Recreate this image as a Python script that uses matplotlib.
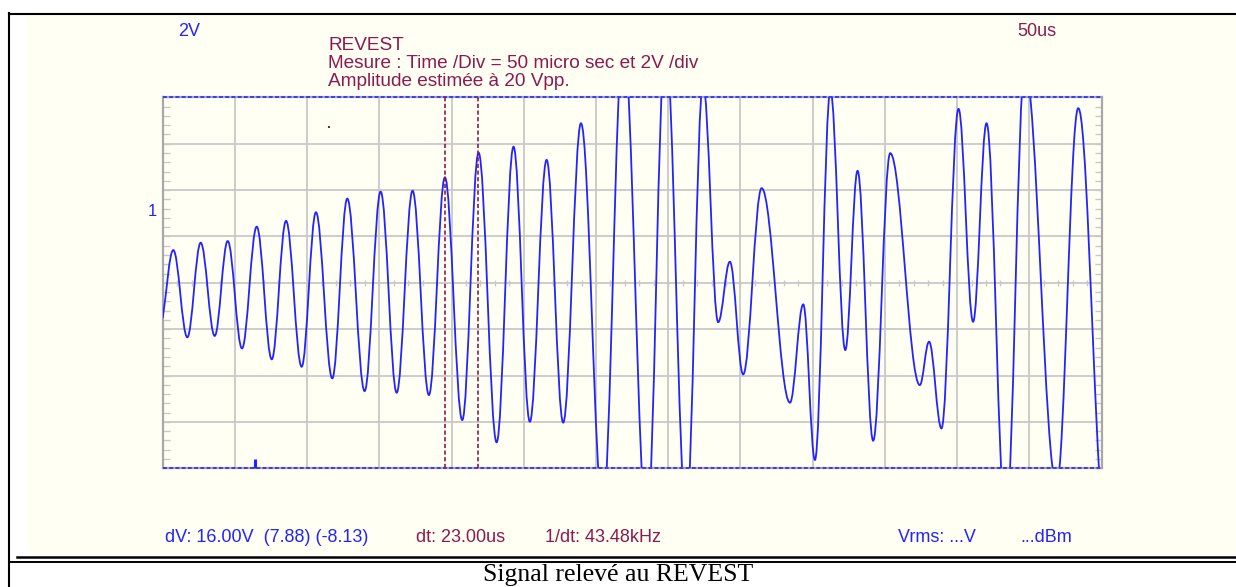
import numpy as np
import matplotlib
matplotlib.use("Agg")
import matplotlib.pyplot as plt
from matplotlib.path import Path
from matplotlib.patches import PathPatch, Rectangle

# turning points of the trace (time in us, level in V)
t_us = [0, 7.34, 17.03, 26.31, 36.0, 45.0, 54.9, 65.1, 75.5, 85.4, 96.2, 106.1,
        117.4, 127.8, 139.8, 150.9, 162.0, 173.0, 184.3, 195.4, 207.4, 218.7,
        231.2, 242.9, 254.2, 265.8, 277.3, 289.6, 304.7, 318.9, 335.3, 348.1,
        362.5, 374.1, 384.6, 392.7, 401.9, 414.7, 434.3, 443.5, 451.6, 462.3,
        472.6, 481.1, 491.9, 503.7, 524.2, 530.6, 539.2, 551.0, 561.1, 570.4,
        583.7, 596.9, 618.9, 633.9, 648.4]
volts = [-1.52, 1.41, -2.35, 1.73, -2.29, 1.80, -2.83, 2.42, -3.30, 2.67, -3.62,
         3.04, -4.12, 3.63, -4.67, 3.93, -4.74, 3.97, -4.84, 4.55, -5.92, 5.61,
         -6.88, 5.87, -5.99, 5.30, -6.03, 6.88, -9.7, 10.5, -10.5, 10.5, -10.0,
         8.6, -1.70, 0.91, -3.95, 4.08, -5.17, -0.93, -7.64, 8.3, -2.90, 4.83,
         -6.81, 5.59, -4.41, -2.54, -6.28, 7.50, -1.68, 6.88, -10.5, 9.3, -8.7,
         7.53, -8.2]

cursor_t = [195.5, 218.5]     # time cursors (dt = 23 us)
trigger_t = 64.2
marker_pt = (115.1, 6.72)

title_lines = ["REVEST",
               "Mesure : Time /Div = 50 micro sec et 2V /div",
               "Amplitude estimée à 20 Vpp."]
volt_div = "2V"
time_div = "50us"
dv_text = "dV: 16.00V  (7.88) (-8.13)"
dt_text = "dt: 23.00us"
freq_text = "1/dt: 43.48kHz"
vrms_text = "Vrms: ...V"
dbm_text = "...dBm"
caption = "Signal relevé au REVEST"

BLUE = "#2323ff"
WINE = "#8c1a4d"
CREAM = "#fffff4"
GRID = "#c8c8c8"

fig = plt.figure(figsize=(12.36, 5.87), dpi=100)
fig.patch.set_facecolor("white")

# page layer in pixel coordinates
bg = fig.add_axes([0, 0, 1, 1], zorder=0)
bg.set_xlim(0, 1236)
bg.set_ylim(587, 0)
bg.axis("off")
bg.add_patch(Rectangle((26, 15), 1236 - 26, 540, facecolor=CREAM, edgecolor="none"))
bg.plot([9, 1236], [14, 14], color="black", lw=1.5)
bg.plot([9, 9], [13, 587], color="black", lw=1.5)
bg.plot([17, 1236], [557, 557], color="black", lw=1.8)
bg.plot([9, 1236], [561.5, 561.5], color="black", lw=1.4)

fnt = "Liberation Sans"
bg.text(178, 31, volt_div, color=BLUE, fontsize=13, family=fnt, va="center")
bg.text(1017, 31, time_div, color=WINE, fontsize=13, family=fnt, va="center")
for i, line in enumerate(title_lines):
    bg.text(328, 45.5 + 18 * i, line, color=WINE, fontsize=13.7, family=fnt, va="center")
bg.text(148, 211, "1", color=BLUE, fontsize=12, family=fnt, va="center")
bg.text(165, 538, dv_text, color=BLUE, fontsize=13, family=fnt, va="center")
bg.text(416, 538, dt_text, color=WINE, fontsize=13, family=fnt, va="center")
bg.text(545, 538, freq_text, color=WINE, fontsize=13, family=fnt, va="center")
bg.text(898, 538, vrms_text, color=BLUE, fontsize=13, family=fnt, va="center")
bg.text(1020, 538, dbm_text, color=BLUE, fontsize=13, family=fnt, va="center")
bg.text(618, 575, caption, color="black", fontsize=18.5, family="Liberation Serif",
        ha="center", va="center")

# scope screen
ax = fig.add_axes([162.7 / 1236, (587 - 468.3) / 587, 938.8 / 1236, 371 / 587], zorder=2)
ax.set_facecolor("none")
ax.set_xlim(0, 650)
ax.set_ylim(-8, 8)
ax.set_xticks(np.arange(0, 651, 50))
ax.set_yticks(np.arange(-8, 9, 2))
ax.set_yticks(np.arange(-8, 8.01, 0.4), minor=True)
ax.grid(True, color=GRID, lw=1.3, zorder=0)
ax.tick_params(axis="x", length=0, labelbottom=False)
ax.tick_params(axis="y", which="both", direction="in", left=True, right=True,
               length=5, width=1, color=GRID, labelleft=False)
for s in ax.spines.values():
    s.set_color("#a8a8a8")
    s.set_linewidth(1.6)

# small ticks along the centre line
ax.vlines(np.arange(0, 651, 10), -0.13, 0.13, color=GRID, lw=1, zorder=1)

# top / bottom level cursors sitting on the frame
for yb in (8, -8):
    ax.axhline(yb, color="#3a3aff", lw=1.4, ls=(0, (2.0, 1.2)), clip_on=False, zorder=4)

# trace: smooth strokes between the turning points
k = 0.37
verts = [(t_us[0], volts[0])]
codes = [Path.MOVETO]
n = len(t_us)
for i in range(n - 1):
    d = t_us[i + 1] - t_us[i]
    dv = volts[i + 1] - volts[i]
    c1 = (t_us[i] + k * d, volts[i] + (k * dv if i == 0 else 0))
    c2 = (t_us[i + 1] - k * d, volts[i + 1] - (k * dv if i == n - 2 else 0))
    verts += [c1, c2, (t_us[i + 1], volts[i + 1])]
    codes += [Path.CURVE4] * 3
ax.add_patch(PathPatch(Path(verts, codes), fill=False, edgecolor=BLUE, lw=1.3, zorder=3))

for tc in cursor_t:
    ax.axvline(tc, color=WINE, lw=1.2, ls=(0, (2.5, 1.5)), zorder=5)

ax.plot([trigger_t, trigger_t], [-8, -7.6], color=BLUE, lw=2.2, solid_capstyle="butt",
        clip_on=False, zorder=5)
ax.plot(*marker_pt, marker="s", ms=1.5, color=WINE, mew=0, zorder=5)

fig.savefig("out.png", dpi=100)
